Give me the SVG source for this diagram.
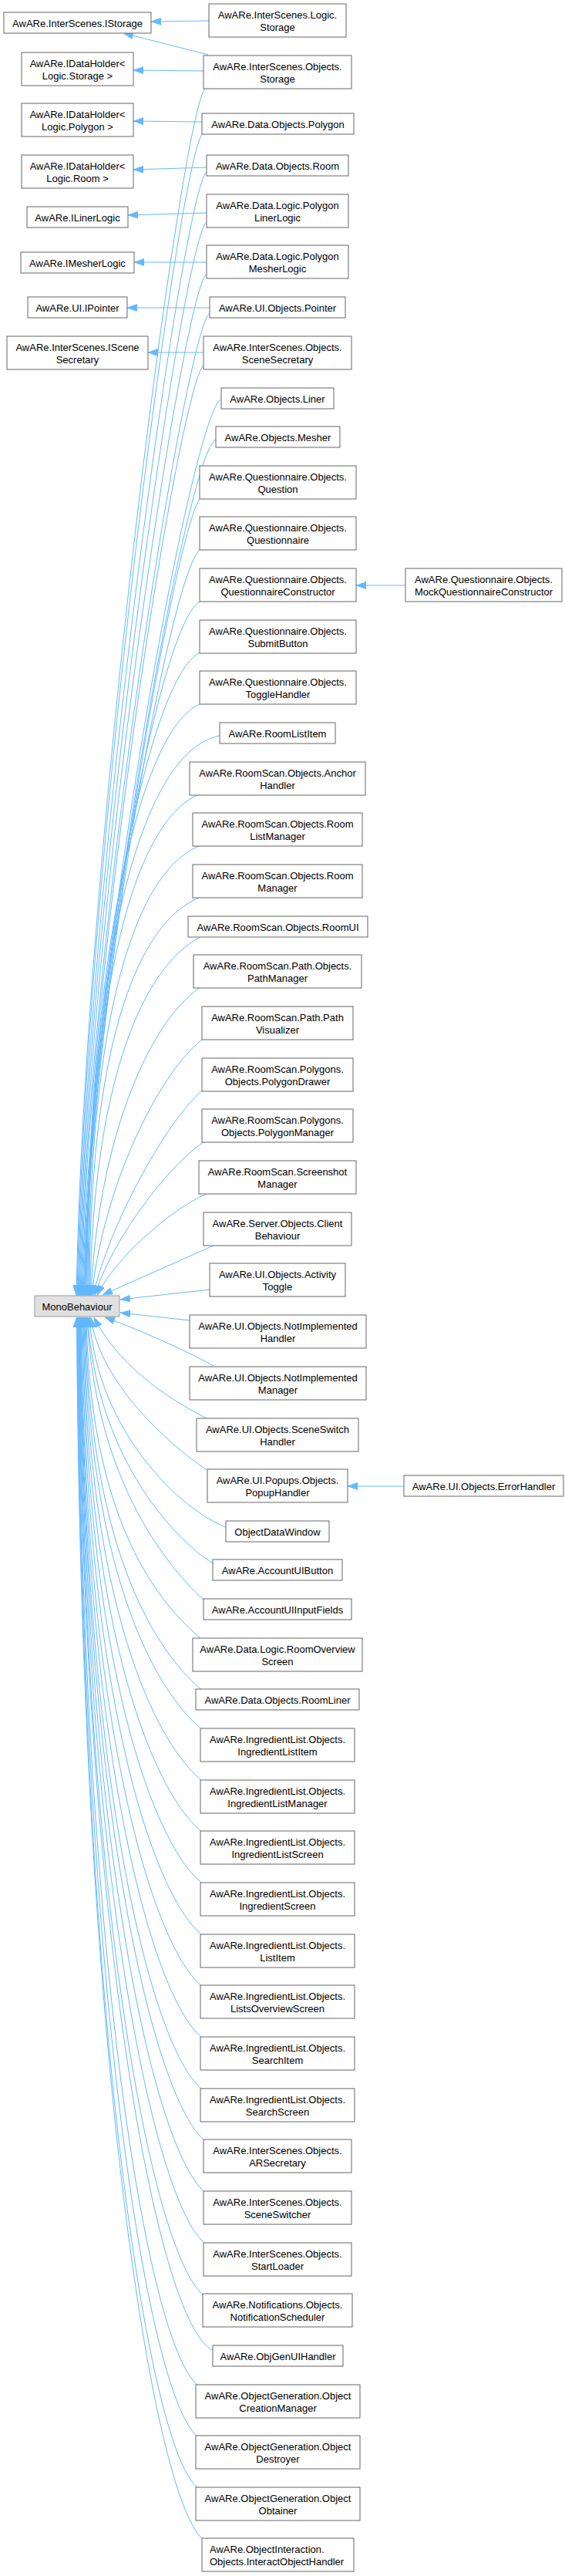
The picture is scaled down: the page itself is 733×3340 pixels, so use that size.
<svg xmlns="http://www.w3.org/2000/svg" width="733" height="3340" viewBox="0 0 733 3340">
<style>
.n rect{fill:#ffffff;stroke:#666666;stroke-width:1}
.r rect{fill:#e0e0e0;stroke:#999999;stroke-width:1}
text{font-family:"Liberation Sans",Arial,Helvetica,sans-serif;font-size:13px;fill:#000000;text-anchor:middle}
.e path{fill:none;stroke:#63b8ff;stroke-width:1;marker-end:url(#ah)}
</style>
<defs>
<marker id="ah" markerUnits="userSpaceOnUse" markerWidth="14" markerHeight="10" refX="13" refY="4.7" orient="auto">
<path d="M0,0 L13,4.7 L0,9.4 Z" fill="#63b8ff" stroke="#63b8ff" stroke-width="0.6"/>
</marker>
</defs>
<rect width="733" height="3340" fill="#ffffff"/>
<g id="connectors" class="e">
<path d="M266,115 c-30,30 -156,986 -167,1564.5"/>
<path d="M263,173 c-30,28 -152,949 -163,1506.5"/>
<path d="M268,223 c-30,22 -156,918 -167,1456.5"/>
<path d="M268,288 c-30,22 -155,877 -166,1391.5"/>
<path d="M268,355 c-30,22 -154,834 -165,1324.5"/>
<path d="M272,406 c-30,20 -157,802 -168,1273.5"/>
<path d="M264,474 c-30,25 -148,760 -159,1205.5"/>
<path d="M287,518 c-35,8 -170,732 -181,1161.5"/>
<path d="M280,570 c-35,10 -162,699 -173,1109.5"/>
<path d="M260,646 c-30,30 -141,651 -152,1033.5"/>
<path d="M259,713 c-37,31 -140,582 -150,966.5"/>
<path d="M259,780 c-52,32 -142,491 -149,899.5"/>
<path d="M259,846 c-65,34 -144,409 -148,833.5"/>
<path d="M259,913 c-79,35 -145,333 -147,766.5"/>
<path d="M285,954 c-103,20 -172,290 -172,725.5"/>
<path d="M258,1030 c-86,36 -144,260 -144,649.5"/>
<path d="M258,1097 c-86,36 -143,233 -143,582.5"/>
<path d="M258,1164 c-85,36 -142,206 -142,515.5"/>
<path d="M260,1215 c-80,41 -140,204 -143,464.5"/>
<path d="M259,1281 c-68,46 -132,202 -141,398.5"/>
<path d="M262,1348 c-58,46 -128,192 -143,331.5"/>
<path d="M262,1414 c-46,40 -120,173 -141,265.5"/>
<path d="M264,1481 c-46,30 -120,129 -141,198.5"/>
<path d="M268,1548 c-47,20 -121,86 -142,131.5"/>
<path d="M277,1615 L133,1679"/>
<path d="M272,1672 L156,1685"/>
<path d="M246,1712 L156,1702"/>
<path d="M277,1771 c-45,-25 -110,-52 -141,-63"/>
<path d="M268,1839 c-35,-18 -110,-60 -146,-131"/>
<path d="M269,1906 c-40,-25 -140,-110 -151,-198"/>
<path d="M293,1980 c-55,-20 -167,-122 -177,-272"/>
<path d="M276,2027 c-55,-35 -152,-144 -162,-319"/>
<path d="M264,2074 c-55,-50 -141,-165 -151,-366"/>
<path d="M260,2124 c-65,-55 -143,-167 -148,-416"/>
<path d="M261,2190.5 c-65,-55 -145,-193 -150,-482.5"/>
<path d="M261,2241.5 c-65,-55 -146,-214 -151,-533.5"/>
<path d="M261,2308 c-65,-55 -147,-240 -152,-600"/>
<path d="M261,2374.5 c-65,-55 -148,-267 -153,-666.5"/>
<path d="M261,2441 c-65,-55 -149,-294 -154,-733"/>
<path d="M261,2508 c-65,-55 -150,-320 -155,-800"/>
<path d="M261,2574.5 c-65,-55 -151,-347 -156,-866.5"/>
<path d="M261,2641 c-65,-55 -151.5,-374 -156.5,-933"/>
<path d="M261,2708 c-65,-55 -152,-400 -157,-1000"/>
<path d="M265,2775 c-65,-55 -156.5,-427 -161.5,-1067"/>
<path d="M265,2841.5 c-65,-55 -157,-454 -162,-1133.5"/>
<path d="M265,2908 c-65,-55 -157.5,-480 -162.5,-1200"/>
<path d="M263,2975 c-65,-55 -156,-507 -161,-1267"/>
<path d="M276,3047 c-70,-30 -169.5,-536 -174.5,-1339"/>
<path d="M256,3092 c-65,-55 -150,-554 -155,-1384"/>
<path d="M256,3159 c-65,-55 -150.5,-581 -155.5,-1451"/>
<path d="M256,3225.5 c-65,-55 -151,-607 -156,-1517.5"/>
<path d="M263,3292 c-65,-55 -158.5,-634 -163.5,-1584"/>
<path d="M271,27 L196,28"/>
<path d="M270,71 L160,43"/>
<path d="M264,92 L173,91"/>
<path d="M262,158 L173,157"/>
<path d="M268,217 L173,220"/>
<path d="M268,276 L166,279"/>
<path d="M268,340 L174,340"/>
<path d="M272,399 L165,399"/>
<path d="M264,457 L192,457"/>
<path d="M526,759 L462,759"/>
<path d="M524,1927 L451,1927"/>
</g>
<g id="IStorage" class="n"><rect x="5" y="16" width="191" height="27"/><text x="100.5" y="34.5">AwARe.InterScenes.IStorage</text></g>
<g id="IDataHolderStorage" class="n"><rect x="28" y="68" width="145" height="43"/><text x="100.5" y="86.5">AwARe.IDataHolder&lt;</text><text x="100.5" y="102.5">Logic.Storage &gt;</text></g>
<g id="IDataHolderPolygon" class="n"><rect x="28" y="134" width="145" height="43"/><text x="100.5" y="152.5">AwARe.IDataHolder&lt;</text><text x="100.5" y="168.5">Logic.Polygon &gt;</text></g>
<g id="IDataHolderRoom" class="n"><rect x="28" y="201" width="145" height="43"/><text x="100.5" y="219.5">AwARe.IDataHolder&lt;</text><text x="100.5" y="235.5">Logic.Room &gt;</text></g>
<g id="ILinerLogic" class="n"><rect x="35" y="268" width="131" height="27"/><text x="100.5" y="286.5">AwARe.ILinerLogic</text></g>
<g id="IMesherLogic" class="n"><rect x="27" y="327" width="147" height="27"/><text x="100.5" y="345.5">AwARe.IMesherLogic</text></g>
<g id="IPointer" class="n"><rect x="36" y="385" width="129" height="27"/><text x="100.5" y="403.5">AwARe.UI.IPointer</text></g>
<g id="ISceneSecretary" class="n"><rect x="9" y="436" width="183" height="43"/><text x="100.5" y="454.5">AwARe.InterScenes.IScene</text><text x="100.5" y="470.5">Secretary</text></g>
<g id="MonoBehaviour" class="r"><rect x="45" y="1680" width="110" height="27"/><text x="100" y="1698.5">MonoBehaviour</text></g>
<g id="LogicStorage" class="n"><rect x="271" y="5" width="178" height="43"/><text x="360" y="23.5">AwARe.InterScenes.Logic.</text><text x="360" y="39.5">Storage</text></g>
<g id="ObjectsStorage" class="n"><rect x="264" y="72" width="192" height="43"/><text x="360" y="90.5">AwARe.InterScenes.Objects.</text><text x="360" y="106.5">Storage</text></g>
<g id="DataPolygon" class="n"><rect x="262" y="147" width="197" height="27"/><text x="360.5" y="165.5">AwARe.Data.Objects.Polygon</text></g>
<g id="DataRoom" class="n"><rect x="268" y="201" width="184" height="27"/><text x="360" y="219.5">AwARe.Data.Objects.Room</text></g>
<g id="PolygonLinerLogic" class="n"><rect x="268" y="252" width="184" height="43"/><text x="360" y="270.5">AwARe.Data.Logic.Polygon</text><text x="360" y="286.5">LinerLogic</text></g>
<g id="PolygonMesherLogic" class="n"><rect x="268" y="318" width="184" height="43"/><text x="360" y="336.5">AwARe.Data.Logic.Polygon</text><text x="360" y="352.5">MesherLogic</text></g>
<g id="Pointer" class="n"><rect x="272" y="385" width="176" height="27"/><text x="360" y="403.5">AwARe.UI.Objects.Pointer</text></g>
<g id="SceneSecretary" class="n"><rect x="264" y="436" width="192" height="43"/><text x="360" y="454.5">AwARe.InterScenes.Objects.</text><text x="360" y="470.5">SceneSecretary</text></g>
<g id="Liner" class="n"><rect x="287" y="503" width="146" height="27"/><text x="360" y="521.5">AwARe.Objects.Liner</text></g>
<g id="Mesher" class="n"><rect x="280" y="553" width="161" height="27"/><text x="360.5" y="571.5">AwARe.Objects.Mesher</text></g>
<g id="Question" class="n"><rect x="259" y="604" width="203" height="43"/><text x="360.5" y="622.5">AwARe.Questionnaire.Objects.</text><text x="360.5" y="638.5">Question</text></g>
<g id="Questionnaire" class="n"><rect x="259" y="670" width="203" height="43"/><text x="360.5" y="688.5">AwARe.Questionnaire.Objects.</text><text x="360.5" y="704.5">Questionnaire</text></g>
<g id="QuestionnaireConstructor" class="n"><rect x="259" y="737" width="203" height="43"/><text x="360.5" y="755.5">AwARe.Questionnaire.Objects.</text><text x="360.5" y="771.5">QuestionnaireConstructor</text></g>
<g id="MockQuestionnaireConstructor" class="n"><rect x="526" y="737" width="203" height="43"/><text x="627.5" y="755.5">AwARe.Questionnaire.Objects.</text><text x="627.5" y="771.5">MockQuestionnaireConstructor</text></g>
<g id="SubmitButton" class="n"><rect x="259" y="804" width="203" height="43"/><text x="360.5" y="822.5">AwARe.Questionnaire.Objects.</text><text x="360.5" y="838.5">SubmitButton</text></g>
<g id="ToggleHandler" class="n"><rect x="259" y="870" width="203" height="43"/><text x="360.5" y="888.5">AwARe.Questionnaire.Objects.</text><text x="360.5" y="904.5">ToggleHandler</text></g>
<g id="RoomListItem" class="n"><rect x="285" y="937" width="150" height="27"/><text x="360" y="955.5">AwARe.RoomListItem</text></g>
<g id="AnchorHandler" class="n"><rect x="246" y="988" width="228" height="43"/><text x="360" y="1006.5">AwARe.RoomScan.Objects.Anchor</text><text x="360" y="1022.5">Handler</text></g>
<g id="RoomListManager" class="n"><rect x="250" y="1054" width="220" height="43"/><text x="360" y="1072.5">AwARe.RoomScan.Objects.Room</text><text x="360" y="1088.5">ListManager</text></g>
<g id="RoomManager" class="n"><rect x="250" y="1121" width="220" height="43"/><text x="360" y="1139.5">AwARe.RoomScan.Objects.Room</text><text x="360" y="1155.5">Manager</text></g>
<g id="RoomUI" class="n"><rect x="244" y="1188" width="233" height="27"/><text x="360.5" y="1206.5">AwARe.RoomScan.Objects.RoomUI</text></g>
<g id="PathManager" class="n"><rect x="251" y="1238" width="218" height="43"/><text x="360" y="1256.5">AwARe.RoomScan.Path.Objects.</text><text x="360" y="1272.5">PathManager</text></g>
<g id="PathVisualizer" class="n"><rect x="262" y="1305" width="196" height="43"/><text x="360" y="1323.5">AwARe.RoomScan.Path.Path</text><text x="360" y="1339.5">Visualizer</text></g>
<g id="PolygonDrawer" class="n"><rect x="262" y="1372" width="196" height="43"/><text x="360" y="1390.5">AwARe.RoomScan.Polygons.</text><text x="360" y="1406.5">Objects.PolygonDrawer</text></g>
<g id="PolygonManager" class="n"><rect x="262" y="1438" width="196" height="43"/><text x="360" y="1456.5">AwARe.RoomScan.Polygons.</text><text x="360" y="1472.5">Objects.PolygonManager</text></g>
<g id="ScreenshotManager" class="n"><rect x="258" y="1505" width="204" height="43"/><text x="360" y="1523.5">AwARe.RoomScan.Screenshot</text><text x="360" y="1539.5">Manager</text></g>
<g id="ClientBehaviour" class="n"><rect x="264" y="1572" width="192" height="43"/><text x="360" y="1590.5">AwARe.Server.Objects.Client</text><text x="360" y="1606.5">Behaviour</text></g>
<g id="ActivityToggle" class="n"><rect x="272" y="1638" width="176" height="43"/><text x="360" y="1656.5">AwARe.UI.Objects.Activity</text><text x="360" y="1672.5">Toggle</text></g>
<g id="NotImplementedHandler" class="n"><rect x="246" y="1705" width="229" height="43"/><text x="360.5" y="1723.5">AwARe.UI.Objects.NotImplemented</text><text x="360.5" y="1739.5">Handler</text></g>
<g id="NotImplementedManager" class="n"><rect x="246" y="1772" width="229" height="43"/><text x="360.5" y="1790.5">AwARe.UI.Objects.NotImplemented</text><text x="360.5" y="1806.5">Manager</text></g>
<g id="SceneSwitchHandler" class="n"><rect x="255" y="1839" width="210" height="43"/><text x="360" y="1857.5">AwARe.UI.Objects.SceneSwitch</text><text x="360" y="1873.5">Handler</text></g>
<g id="PopupHandler" class="n"><rect x="269" y="1905" width="182" height="43"/><text x="360" y="1923.5">AwARe.UI.Popups.Objects.</text><text x="360" y="1939.5">PopupHandler</text></g>
<g id="ErrorHandler" class="n"><rect x="524" y="1913" width="207" height="27"/><text x="627.5" y="1931.5">AwARe.UI.Objects.ErrorHandler</text></g>
<g id="ObjectDataWindow" class="n"><rect x="293" y="1972" width="134" height="27"/><text x="360" y="1990.5">ObjectDataWindow</text></g>
<g id="AccountUIButton" class="n"><rect x="276" y="2022" width="168" height="27"/><text x="360" y="2040.5">AwARe.AccountUIButton</text></g>
<g id="AccountUIInputFields" class="n"><rect x="264" y="2073" width="192" height="27"/><text x="360" y="2091.5">AwARe.AccountUIInputFields</text></g>
<g id="RoomOverviewScreen" class="n"><rect x="250" y="2124" width="220" height="43"/><text x="360" y="2142.5">AwARe.Data.Logic.RoomOverview</text><text x="360" y="2158.5">Screen</text></g>
<g id="RoomLiner" class="n"><rect x="254" y="2190" width="212" height="27"/><text x="360" y="2208.5">AwARe.Data.Objects.RoomLiner</text></g>
<g id="IngredientListItem" class="n"><rect x="260" y="2241" width="200" height="43"/><text x="360" y="2259.5">AwARe.IngredientList.Objects.</text><text x="360" y="2275.5">IngredientListItem</text></g>
<g id="IngredientListManager" class="n"><rect x="260" y="2308" width="200" height="43"/><text x="360" y="2326.5">AwARe.IngredientList.Objects.</text><text x="360" y="2342.5">IngredientListManager</text></g>
<g id="IngredientListScreen" class="n"><rect x="260" y="2374" width="200" height="43"/><text x="360" y="2392.5">AwARe.IngredientList.Objects.</text><text x="360" y="2408.5">IngredientListScreen</text></g>
<g id="IngredientScreen" class="n"><rect x="260" y="2441" width="200" height="43"/><text x="360" y="2459.5">AwARe.IngredientList.Objects.</text><text x="360" y="2475.5">IngredientScreen</text></g>
<g id="ListItem" class="n"><rect x="260" y="2508" width="200" height="43"/><text x="360" y="2526.5">AwARe.IngredientList.Objects.</text><text x="360" y="2542.5">ListItem</text></g>
<g id="ListsOverviewScreen" class="n"><rect x="260" y="2574" width="200" height="43"/><text x="360" y="2592.5">AwARe.IngredientList.Objects.</text><text x="360" y="2608.5">ListsOverviewScreen</text></g>
<g id="SearchItem" class="n"><rect x="260" y="2641" width="200" height="43"/><text x="360" y="2659.5">AwARe.IngredientList.Objects.</text><text x="360" y="2675.5">SearchItem</text></g>
<g id="SearchScreen" class="n"><rect x="260" y="2708" width="200" height="43"/><text x="360" y="2726.5">AwARe.IngredientList.Objects.</text><text x="360" y="2742.5">SearchScreen</text></g>
<g id="ARSecretary" class="n"><rect x="264" y="2774" width="192" height="43"/><text x="360" y="2792.5">AwARe.InterScenes.Objects.</text><text x="360" y="2808.5">ARSecretary</text></g>
<g id="SceneSwitcher" class="n"><rect x="264" y="2841" width="192" height="43"/><text x="360" y="2859.5">AwARe.InterScenes.Objects.</text><text x="360" y="2875.5">SceneSwitcher</text></g>
<g id="StartLoader" class="n"><rect x="264" y="2908" width="192" height="43"/><text x="360" y="2926.5">AwARe.InterScenes.Objects.</text><text x="360" y="2942.5">StartLoader</text></g>
<g id="NotificationScheduler" class="n"><rect x="263" y="2974" width="194" height="43"/><text x="360" y="2992.5">AwARe.Notifications.Objects.</text><text x="360" y="3008.5">NotificationScheduler</text></g>
<g id="ObjGenUIHandler" class="n"><rect x="276" y="3041" width="169" height="27"/><text x="360.5" y="3059.5">AwARe.ObjGenUIHandler</text></g>
<g id="ObjectCreationManager" class="n"><rect x="254" y="3092" width="213" height="43"/><text x="360.5" y="3110.5">AwARe.ObjectGeneration.Object</text><text x="360.5" y="3126.5">CreationManager</text></g>
<g id="ObjectDestroyer" class="n"><rect x="254" y="3158" width="213" height="43"/><text x="360.5" y="3176.5">AwARe.ObjectGeneration.Object</text><text x="360.5" y="3192.5">Destroyer</text></g>
<g id="ObjectObtainer" class="n"><rect x="254" y="3225" width="213" height="43"/><text x="360.5" y="3243.5">AwARe.ObjectGeneration.Object</text><text x="360.5" y="3259.5">Obtainer</text></g>
<g id="InteractObjectHandler" class="n"><rect x="262" y="3291" width="197" height="43"/><text x="272" y="3309.5" style="text-anchor:start">AwARe.ObjectInteraction.</text><text x="272" y="3325.5" style="text-anchor:start">Objects.InteractObjectHandler</text></g>
</svg>
